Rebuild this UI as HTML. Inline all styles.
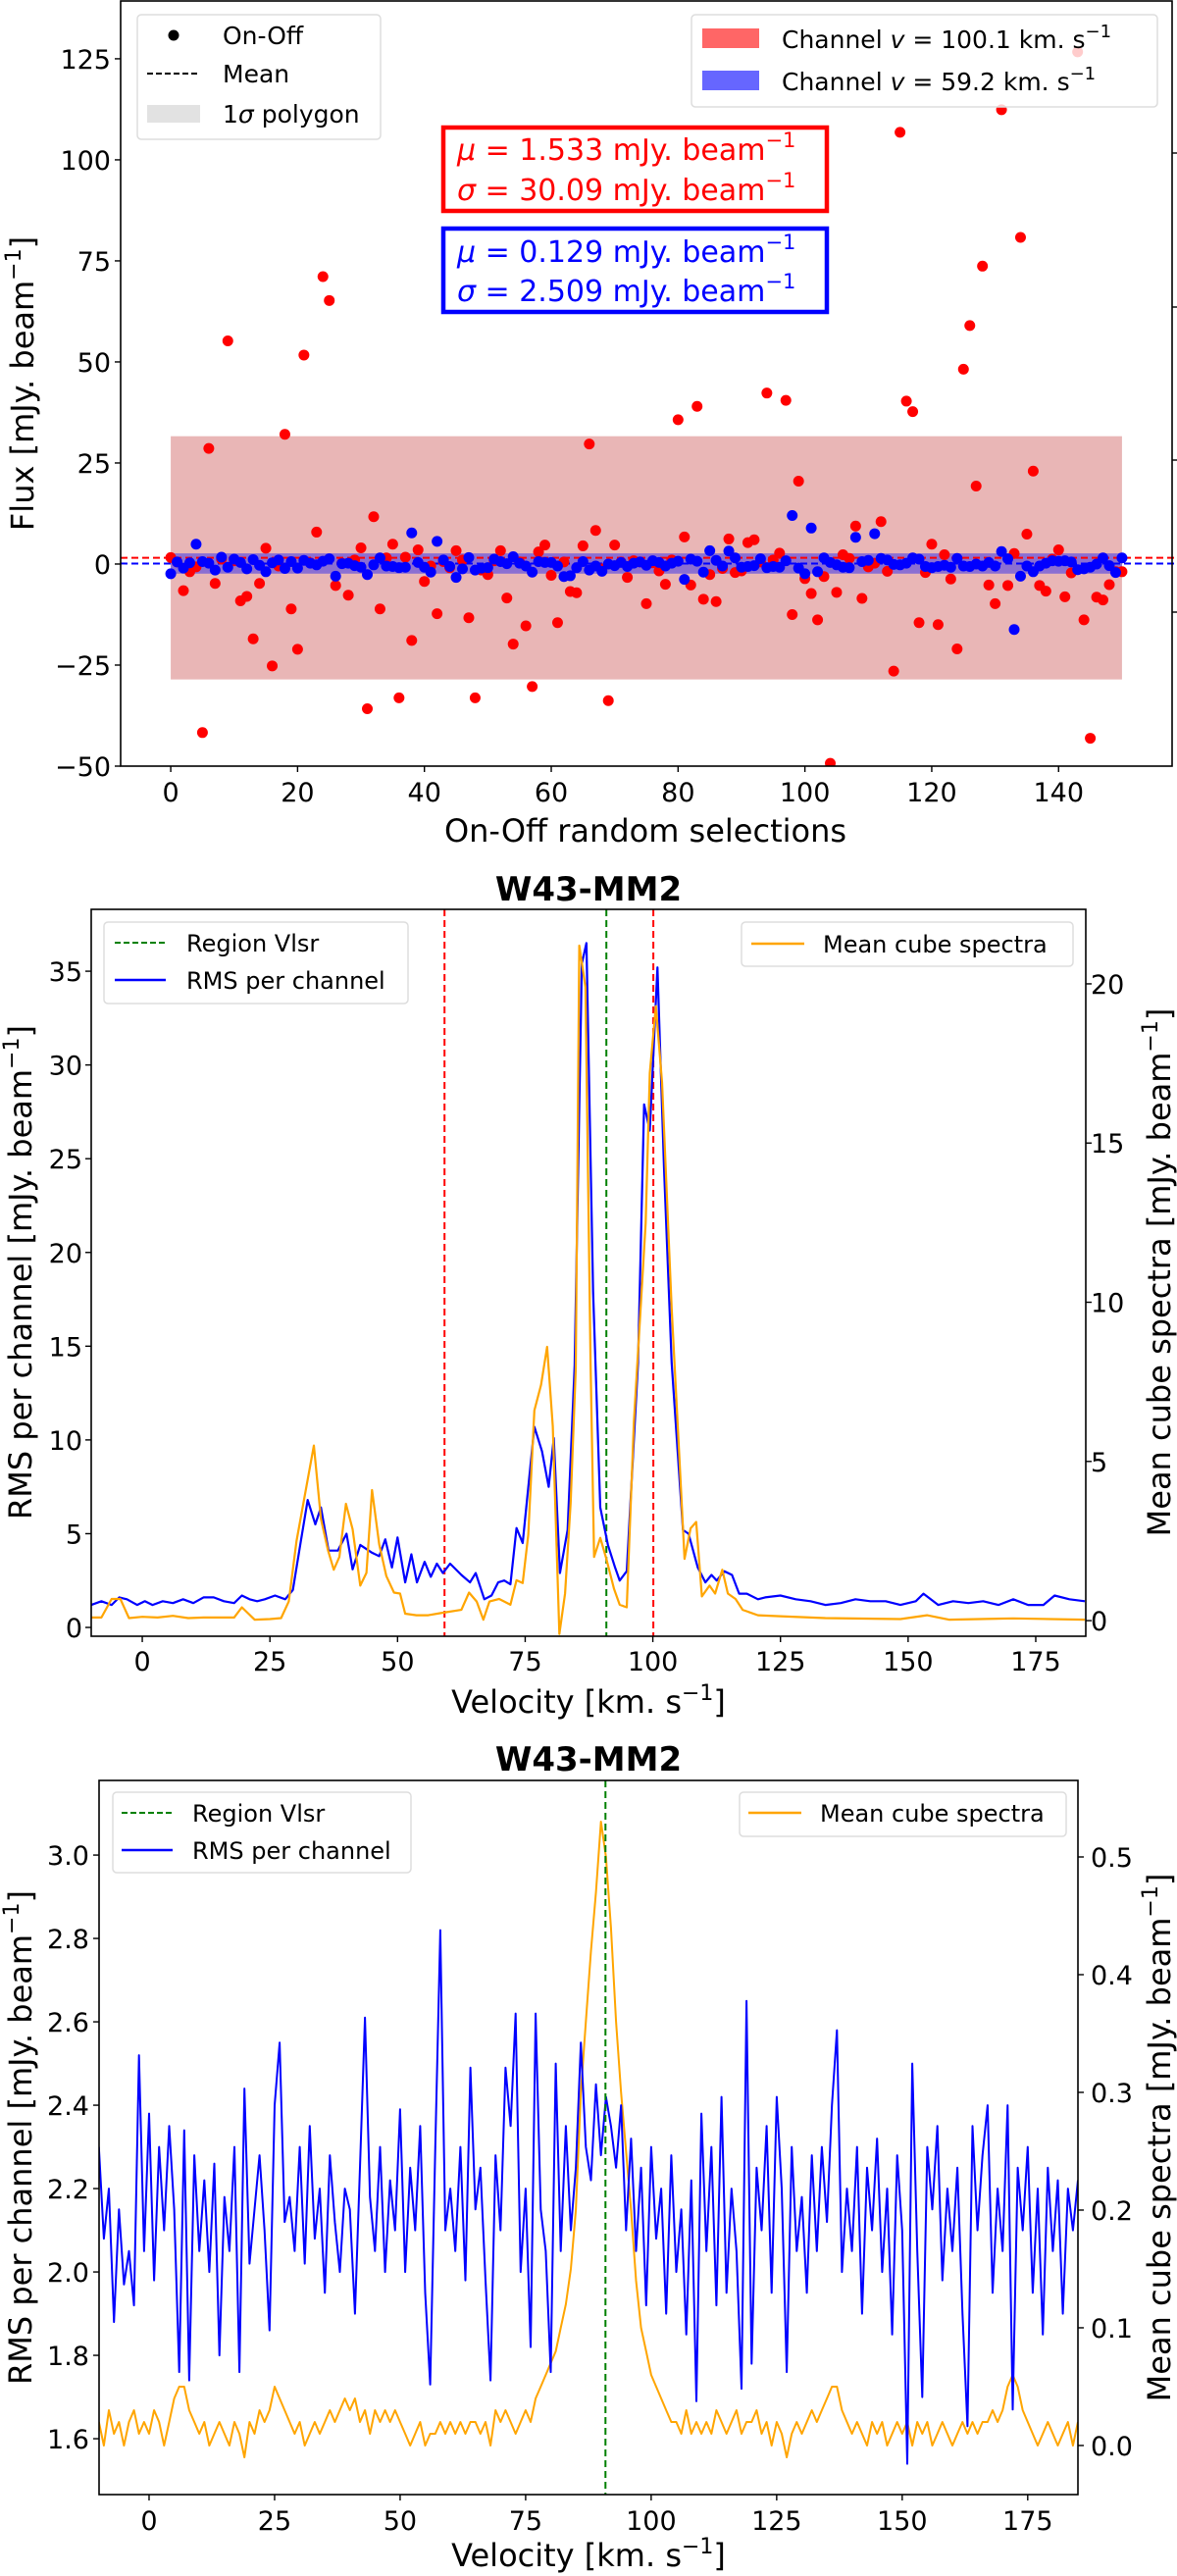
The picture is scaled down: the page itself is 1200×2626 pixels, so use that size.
<!DOCTYPE html>
<html><head><meta charset="utf-8"><title>On-Off and W43-MM2 spectra</title>
<style>
html,body{margin:0;padding:0;background:#fff;}
svg{display:block;font-family:"DejaVu Sans","Liberation Sans",sans-serif;}
</style></head>
<body>
<svg id="fig" xmlns="http://www.w3.org/2000/svg" width="1200" height="2626" viewBox="0 0 1200 2626">
<defs>
<clipPath id="c1"><rect x="123" y="1" width="1072" height="780"/></clipPath>
<clipPath id="c2"><rect x="93" y="927" width="1014" height="741"/></clipPath>
<clipPath id="c3"><rect x="101" y="1815" width="998" height="728"/></clipPath>
</defs>
<g id="g1"></g>
<g id="g2"></g>
<g id="g3"></g>

<!-- Panel 1 static text -->
<text x="658" y="858" font-size="32" text-anchor="middle">On-Off random selections</text>
<text transform="translate(34,391) rotate(-90)" font-size="32" text-anchor="middle">Flux [mJy. beam<tspan dy="-13" font-size="22">−1</tspan><tspan dy="13">]</tspan></text>

<g>
<rect x="140" y="15" width="248" height="127" rx="4" fill="#fff" fill-opacity="0.8" stroke="#ddd" stroke-width="1.5"/>
<circle cx="177" cy="36" r="5.5" fill="#000"/>
<text x="227" y="45" font-size="25">On-Off</text>
<line x1="150" y1="75" x2="204" y2="75" stroke="#000" stroke-width="2" stroke-dasharray="6,3"/>
<text x="227" y="84" font-size="25">Mean</text>
<rect x="150" y="107" width="54" height="18" fill="#e2e2e2"/>
<text x="227" y="125" font-size="25">1<tspan font-style="italic">σ</tspan> polygon</text>
</g>

<g>
<rect x="705" y="15" width="475" height="94" rx="4" fill="#fff" fill-opacity="0.8" stroke="#ddd" stroke-width="1.5"/>
<rect x="716" y="29" width="58" height="20" fill="#ff6666"/>
<text x="797" y="49" font-size="25">Channel <tspan font-style="italic">v</tspan> = 100.1 km. s<tspan dy="-11" font-size="18">−1</tspan></text>
<rect x="716" y="72" width="58" height="20" fill="#6666ff"/>
<text x="797" y="92" font-size="25">Channel <tspan font-style="italic">v</tspan> = 59.2 km. s<tspan dy="-11" font-size="18">−1</tspan></text>
</g>

<g>
<rect x="452" y="130" width="391" height="85" fill="#fff" stroke="#ff0000" stroke-width="4.5"/>
<text x="466" y="163" font-size="30" fill="#ff0000"><tspan font-style="italic">μ</tspan> = 1.533 mJy. beam<tspan dy="-13" font-size="21">−1</tspan></text>
<text x="466" y="204" font-size="30" fill="#ff0000"><tspan font-style="italic">σ</tspan> = 30.09 mJy. beam<tspan dy="-13" font-size="21">−1</tspan></text>
</g>
<g>
<rect x="452" y="233" width="391" height="85" fill="#fff" stroke="#0000ff" stroke-width="4.5"/>
<text x="466" y="267" font-size="30" fill="#0000ff"><tspan font-style="italic">μ</tspan> = 0.129 mJy. beam<tspan dy="-13" font-size="21">−1</tspan></text>
<text x="466" y="307" font-size="30" fill="#0000ff"><tspan font-style="italic">σ</tspan> = 2.509 mJy. beam<tspan dy="-13" font-size="21">−1</tspan></text>
</g>

<!-- Panel 2 static text -->
<text x="600" y="918" font-size="34" font-weight="bold" text-anchor="middle">W43-MM2</text>
<text x="600" y="1746" font-size="32" text-anchor="middle">Velocity [km. s<tspan dy="-13" font-size="22">−1</tspan><tspan dy="13">]</tspan></text>
<text transform="translate(32,1297) rotate(-90)" font-size="32" text-anchor="middle">RMS per channel [mJy. beam<tspan dy="-13" font-size="22">−1</tspan><tspan dy="13">]</tspan></text>
<text transform="translate(1193,1297) rotate(-90)" font-size="32" text-anchor="middle">Mean cube spectra [mJy. beam<tspan dy="-13" font-size="22">−1</tspan><tspan dy="13">]</tspan></text>
<g>
<rect x="106" y="940" width="310" height="83" rx="4" fill="#fff" fill-opacity="0.8" stroke="#ddd" stroke-width="1.5"/>
<line x1="117" y1="961" x2="169" y2="961" stroke="#008000" stroke-width="2" stroke-dasharray="6,3"/>
<text x="190" y="970" font-size="24">Region Vlsr</text>
<line x1="117" y1="999" x2="169" y2="999" stroke="#0000ff" stroke-width="2.5"/>
<text x="190" y="1008" font-size="24">RMS per channel</text>
</g>
<g>
<rect x="756" y="940" width="338" height="45" rx="4" fill="#fff" fill-opacity="0.8" stroke="#ddd" stroke-width="1.5"/>
<line x1="766" y1="962" x2="820" y2="962" stroke="#ffa500" stroke-width="2.5"/>
<text x="839" y="971" font-size="24">Mean cube spectra</text>
</g>

<!-- Panel 3 static text -->
<text x="600" y="1805" font-size="34" font-weight="bold" text-anchor="middle">W43-MM2</text>
<text x="600" y="2616" font-size="32" text-anchor="middle">Velocity [km. s<tspan dy="-13" font-size="22">−1</tspan><tspan dy="13">]</tspan></text>
<text transform="translate(32,2179) rotate(-90)" font-size="32" text-anchor="middle">RMS per channel [mJy. beam<tspan dy="-13" font-size="22">−1</tspan><tspan dy="13">]</tspan></text>
<text transform="translate(1193,2179) rotate(-90)" font-size="32" text-anchor="middle">Mean cube spectra [mJy. beam<tspan dy="-13" font-size="22">−1</tspan><tspan dy="13">]</tspan></text>
<g>
<rect x="115" y="1827" width="304" height="82" rx="4" fill="#fff" fill-opacity="0.8" stroke="#ddd" stroke-width="1.5"/>
<line x1="124" y1="1848" x2="176" y2="1848" stroke="#008000" stroke-width="2" stroke-dasharray="6,3"/>
<text x="196" y="1857" font-size="24">Region Vlsr</text>
<line x1="124" y1="1886" x2="176" y2="1886" stroke="#0000ff" stroke-width="2.5"/>
<text x="196" y="1895" font-size="24">RMS per channel</text>
</g>
<g>
<rect x="754" y="1827" width="333" height="45" rx="4" fill="#fff" fill-opacity="0.8" stroke="#ddd" stroke-width="1.5"/>
<line x1="763" y1="1848" x2="817" y2="1848" stroke="#ffa500" stroke-width="2.5"/>
<text x="836" y="1857" font-size="24">Mean cube spectra</text>
</g>
</svg>

<script>
// ---------- Panel 1 data ----------
const onoffRed = [1.6,0.5,-6.6,-1.9,-0.7,-41.7,28.6,-4.8,1.2,55.2,0.8,-9.1,-8.0,-18.5,-4.8,3.9,-25.2,-0.5,32.1,-11.1,
-21.1,51.7,0.3,7.9,71.1,65.2,-5.3,0.2,-7.7,1.0,4.0,-35.8,11.7,-11.1,1.5,4.9,-33.1,1.7,-18.9,3.5,
-4.3,-0.5,-12.3,0.6,-0.9,3.3,1.0,-13.3,-33.1,-1.5,-2.6,0.8,3.3,-8.4,-19.8,0.5,-15.3,-30.3,3.0,4.7,
-2.8,-14.5,0.5,-6.8,-7.1,4.5,29.7,8.3,-1.2,-33.8,4.7,0.5,-3.3,0.8,0.5,-9.8,0.3,-1.7,-5.0,1.0,
35.7,6.7,-5.2,39.0,-8.7,-2.6,-9.3,-1.1,6.2,-2.1,-1.7,5.3,6.0,0.5,42.3,1.0,2.7,40.5,-12.5,20.5,
-3.6,-7.3,-13.8,-3.1,-49.3,-7.0,2.3,1.4,9.4,-8.5,-0.7,0.2,10.5,-1.8,-26.5,106.8,40.3,37.7,-14.5,-2.1,
4.9,-15.0,2.3,-3.7,-21.0,48.2,59.0,19.3,73.7,-5.2,-9.8,112.4,-5.3,2.6,80.8,7.4,23.0,-5.3,-6.7,1.2,
3.5,-8.1,-2.2,126.7,-13.8,-43.1,-8.2,-8.9,-5.1,-1.9,-1.9];
const onoffBlue = [-2.4,0.5,-1.0,0.3,4.9,0.6,0.2,-1.5,1.7,-0.8,1.2,0.4,-1.2,1.1,-0.3,-1.9,0.3,1.0,-1.1,0.6,
-1.0,0.9,0.2,-0.2,0.7,1.3,-3.0,0.1,0.2,-0.4,-0.8,-2.6,-0.2,1.5,-0.5,-0.6,-0.9,-0.8,7.7,0.4,
-0.8,-2.0,5.6,1.0,-0.6,-3.3,-1.2,1.6,-1.5,-1.0,-0.9,1.2,0.6,0.1,1.8,0.2,-0.5,-2.0,0.6,0.4,
0.4,-0.5,-3.1,-2.9,-0.9,0.6,-1.5,-0.5,-1.8,0.0,-0.4,0.4,-0.6,0.2,0.5,-0.3,0.8,0.4,-0.5,0.2,
0.7,-3.8,1.2,0.7,-2.0,3.3,0.9,-0.5,3.2,1.5,-0.8,-0.6,-0.4,1.3,-0.9,-0.6,-0.8,0.8,12.0,-1.0,
-2.4,8.9,-1.9,1.5,0.4,-0.2,-0.8,-0.9,6.6,0.6,0.9,7.5,1.4,1.0,-0.1,-0.2,0.2,1.5,1.2,-0.6,
-0.9,-0.6,-0.3,-0.8,1.4,-0.5,-0.6,0.0,-0.5,0.4,-0.5,3.1,1.3,-16.2,-3.0,-0.5,-1.9,-0.5,0.2,0.8,
0.7,0.8,0.5,-1.4,-1.2,-0.8,0.0,1.5,-0.4,-2.1,1.5];
const redMean = 1.533, redSigma = 30.09;
const blueMean = 0.129, blueSigma = 2.509;
const p1XTicks = [0,20,40,60,80,100,120,140];
const p1YTicks = [-50,-25,0,25,50,75,100,125];

// ---------- Panel 2 data ----------
const rmsVel2 = [-10,-8,-6,-4.5,-3,-1,0.5,2,4,6,8,10,12,14,16,18,19.5,21,22.5,24,26,28,29.5,31,32.4,33.9,35,36.5,38.3,40,41.2,42.7,44.9,46.4,47.6,48.9,50,51.5,52.7,53.8,55.3,56.5,57.7,58.9,60.3,62.5,64.2,65.3,67,68.4,69.7,70.9,72.1,73.3,74.5,76.8,78.3,79.6,80.6,81.8,83.3,84.7,86.1,87,88.3,89.7,91.2,92.6,93.5,94.9,97.1,98.3,99.4,100.9,102.2,103.7,105.9,107,108.8,110.3,111.5,112.5,114,115.5,116.9,118.4,120.6,122,125,128,130.9,133.8,136.8,139.7,142.6,145.6,148.5,151.5,153,155.9,158.8,161.8,164.7,167.7,170.6,173.5,176.5,178.7,181.6,184.6];
const rmsVal2 = [1.2,1.4,1.2,1.6,1.5,1.2,1.4,1.2,1.4,1.3,1.5,1.3,1.6,1.6,1.4,1.3,1.7,1.5,1.4,1.5,1.7,1.5,2.0,4.5,6.8,5.5,6.4,4.1,4.1,5.0,3.1,4.4,4.0,3.8,4.7,3.2,4.8,2.4,3.9,2.4,3.5,2.7,3.4,2.9,3.4,2.8,2.4,2.9,1.5,1.7,2.4,2.5,2.3,5.3,4.5,10.7,9.4,7.5,10.1,2.9,5.2,14.0,35.4,36.5,17.9,6.4,4.4,3.2,2.5,3.0,14.1,27.9,26.5,35.2,24.5,14.1,5.2,5.0,3.2,2.4,2.8,2.5,3.0,2.8,1.8,1.8,1.5,1.6,1.7,1.5,1.4,1.2,1.3,1.5,1.4,1.4,1.2,1.4,1.8,1.2,1.4,1.3,1.4,1.2,1.5,1.2,1.2,1.7,1.5,1.4];
const meanVel2 = [-10,-8,-6,-4.3,-2.6,0,3,6,9,12,15,18,19.5,22,25,27.2,28.7,30.2,33.6,35,36.4,37.5,38.6,39.9,41.2,42.7,43.9,45,46.4,47.8,49.3,50.5,51.5,53.7,56,58.9,62.5,64,65.5,66.8,68,69.9,70.9,72.1,73.3,74.5,75.6,76.8,78.1,79.3,80.4,81.7,82.8,83.9,84.9,85.6,86.8,87.8,88.5,89.7,90.9,92.4,93.5,94.9,96.3,98.6,99.4,100.6,101.8,103.7,105.2,106.2,107.4,108.5,109.6,111.1,112.2,113.6,114.7,116.2,117.6,120.6,125,133.8,148.5,153.7,158,170.6,184.6];
const meanVal2 = [0.1,0.1,0.68,0.68,0.08,0.12,0.1,0.15,0.08,0.1,0.1,0.1,0.42,0.03,0.05,0.08,0.6,2.5,5.5,3.2,2.2,1.6,2.0,3.67,2.87,1.1,1.5,4.1,2.4,1.4,0.88,0.85,0.22,0.17,0.17,0.25,0.34,0.88,0.6,0.03,0.6,0.68,0.6,0.5,1.27,1.18,2.7,6.6,7.4,8.6,6.1,-0.42,0.85,3.7,7.9,21.2,19.9,8.1,2.0,2.6,1.94,1.0,0.5,0.42,6.25,12.5,17.2,19.3,16.9,9.8,5.1,1.94,2.9,3.1,0.76,1.1,0.85,1.6,0.85,0.68,0.34,0.17,0.14,0.08,0.05,0.17,0.03,0.07,0.03];
const vlines2Red = [59.2, 100.1];
const vlsr = 90.9;
const p2XTicks = [0,25,50,75,100,125,150,175];
const p2LTicks = [0,5,10,15,20,25,30,35];
const p2RTicks = [0,5,10,15,20];

// ---------- Panel 3 data (1 km/s grid starting at -10) ----------
const velStart3 = -10, velStep3 = 1;
const rms3 = [2.30,2.08,2.20,1.88,2.15,1.97,2.05,1.92,2.52,2.05,
2.38,1.98,2.30,2.10,2.35,2.15,1.76,2.34,1.74,2.28,
2.05,2.22,2.00,2.26,1.80,2.18,2.05,2.30,1.76,2.44,
2.02,2.15,2.28,2.10,1.86,2.40,2.55,2.12,2.18,2.05,
2.30,2.02,2.35,2.08,2.20,1.95,2.28,2.12,2.00,2.20,
2.15,1.90,2.25,2.61,2.18,2.05,2.30,2.00,2.22,2.10,
2.39,2.00,2.25,2.10,2.35,1.95,1.73,2.30,2.82,2.10,
2.20,2.05,2.30,1.98,2.49,2.15,2.25,1.98,1.74,2.28,
2.10,2.49,2.35,2.62,2.00,2.20,1.82,2.62,2.15,2.05,
1.76,2.50,2.05,2.35,2.10,2.25,2.55,2.30,2.22,2.45,
2.28,2.42,2.35,2.25,2.40,2.10,2.32,2.05,2.25,1.92,
2.30,2.08,2.20,1.90,2.28,2.00,2.15,1.85,2.22,1.69,
2.38,2.05,2.30,1.92,2.42,1.95,2.20,2.05,1.72,2.65,
1.78,2.25,2.10,2.35,1.95,2.42,2.20,1.76,2.30,2.05,
2.18,1.95,2.28,2.05,2.30,2.12,2.40,2.58,2.00,2.20,
2.05,2.30,1.90,2.25,2.10,2.32,2.00,2.20,1.85,2.28,
2.10,1.54,2.50,2.05,1.70,2.30,2.15,2.35,1.98,2.20,
2.05,2.25,1.90,1.63,2.35,2.10,2.28,2.40,1.95,2.20,
2.05,2.40,1.67,2.25,2.10,2.30,1.95,2.20,1.85,2.25,
2.05,2.22,1.90,2.20,2.10,2.22];
const mean3 = [0.02,0.00,0.03,0.01,0.02,0.00,0.02,0.03,0.01,0.02,
0.01,0.03,0.02,0.00,0.02,0.04,0.05,0.05,0.03,0.02,
0.01,0.02,0.00,0.01,0.02,0.01,0.00,0.02,0.01,-0.01,
0.02,0.01,0.03,0.02,0.03,0.05,0.04,0.03,0.02,0.01,
0.02,0.00,0.01,0.02,0.01,0.02,0.03,0.02,0.03,0.04,
0.03,0.04,0.02,0.03,0.01,0.03,0.02,0.03,0.02,0.03,
0.02,0.01,0.00,0.01,0.02,0.00,0.01,0.01,0.02,0.01,
0.02,0.01,0.02,0.01,0.02,0.02,0.01,0.02,0.00,0.03,
0.02,0.03,0.02,0.01,0.02,0.03,0.02,0.04,0.05,0.06,
0.07,0.08,0.10,0.12,0.15,0.20,0.30,0.36,0.42,0.47,
0.53,0.50,0.44,0.36,0.30,0.25,0.20,0.14,0.10,0.08,
0.06,0.05,0.04,0.03,0.02,0.02,0.01,0.03,0.01,0.02,
0.01,0.02,0.01,0.03,0.02,0.01,0.02,0.03,0.01,0.02,
0.02,0.03,0.01,0.02,0.00,0.02,0.01,-0.01,0.01,0.02,
0.01,0.02,0.03,0.02,0.03,0.04,0.05,0.05,0.03,0.02,
0.01,0.02,0.01,0.00,0.02,0.01,0.02,0.00,0.01,0.02,
0.01,0.02,0.00,0.02,0.01,0.02,0.00,0.01,0.02,0.01,
0.00,0.01,0.02,0.01,0.02,0.01,0.02,0.02,0.03,0.02,
0.03,0.05,0.06,0.05,0.03,0.02,0.01,0.00,0.01,0.02,
0.01,0.00,0.01,0.02,0.00,0.02];
const p3XTicks = [0,25,50,75,100,125,150,175];
const p3LTicks = [1.6,1.8,2.0,2.2,2.4,2.6,2.8,3.0];
const p3RTicks = [0.0,0.1,0.2,0.3,0.4,0.5];

// ---------- drawing ----------
const NS = 'http://www.w3.org/2000/svg';
function mk(tag, attrs, parent){
  const e = document.createElementNS(NS, tag);
  for (const k in attrs) e.setAttribute(k, attrs[k]);
  parent.appendChild(e);
  return e;
}
function lin(d0,d1,r0,r1){ return v => r0 + (v-d0)/(d1-d0)*(r1-r0); }
function fmtMinus(s){ return String(s).replace('-', '\u2212'); }

const P1 = {l:123,r:1195,t:1,b:781};
const x1 = lin(-7.9,157.9,P1.l,P1.r), y1 = lin(-50,139.3,P1.b,P1.t);
const P2 = {l:93,r:1107,t:927,b:1668};
const x2 = lin(-10,184.8,P2.l,P2.r), y2L = lin(-0.47,38.3,P2.b,P2.t), y2R = lin(-0.49,22.34,P2.b,P2.t);
const P3 = {l:101,r:1099,t:1815,b:2543};
const x3 = lin(-9.96,185,P3.l,P3.r), y3L = lin(1.466,3.179,P3.b,P3.t), y3R = lin(-0.0417,0.565,P3.b,P3.t);

function frame(g, P){
  const r = mk('rect',{x:P.l,y:P.t,width:P.r-P.l,height:P.b-P.t,fill:'none',stroke:'#000','stroke-width':1.6},g);
  
  
}
function xTicks(g, P, ticks, sx, ly){
  ticks.forEach(t=>{
    const X = sx(t);
    const tk = mk('line',{x1:X,y1:P.b,x2:X,y2:P.b+6,stroke:'#000','stroke-width':1.4},g);
    
    
    const lb = mk('text',{x:X,y:ly,'font-size':27,'text-anchor':'middle'},g);
    
    
    lb.textContent = fmtMinus(t);
  });
}
function yTicks(g, P, ticks, sy, side, lx, digits){
  ticks.forEach(t=>{
    const Y = sy(t);
    const X0 = side==='left'?P.l:P.r, X1 = side==='left'?P.l-6:P.r+6;
    const tk = mk('line',{x1:X0,y1:Y,x2:X1,y2:Y,stroke:'#000','stroke-width':1.4},g);
    
    
    const lb = mk('text',{x:lx,y:Y+10,'font-size':27,'text-anchor':side==='left'?'end':'start'},g);
    
    
    lb.textContent = fmtMinus(digits!=null ? t.toFixed(digits) : t);
  });
}
function polyline(g, xs, ys, sx, sy, color, w, clip, name){
  const pts = xs.map((v,i)=> sx(v).toFixed(1)+','+sy(ys[i]).toFixed(1)).join(' ');
  const pl = mk('polyline',{points:pts,fill:'none',stroke:color,'stroke-width':w,'stroke-linejoin':'round','clip-path':'url(#'+clip+')'},g);
  
  
}
function vline(g, P, X, color, name){
  const l = mk('line',{x1:X,y1:P.t,x2:X,y2:P.b,stroke:color,'stroke-width':2,'stroke-dasharray':'7,4'},g);
  
  
}

// Panel 1
const g1 = document.getElementById('g1');
const n1 = onoffRed.length;
const redBand = mk('rect',{x:x1(0),y:y1(redMean+redSigma),width:x1(n1-1)-x1(0),height:y1(redMean-redSigma)-y1(redMean+redSigma),fill:'#e9b6b6'},g1);


const blueBand = mk('rect',{x:x1(0),y:y1(blueMean+blueSigma),width:x1(n1-1)-x1(0),height:y1(blueMean-blueSigma)-y1(blueMean+blueSigma),fill:'#8b6fd2'},g1);


const redMeanLine = mk('line',{x1:P1.l,x2:P1.r+6,y1:y1(redMean),y2:y1(redMean),stroke:'#ff0000','stroke-width':2,'stroke-dasharray':'7,4'},g1);


const blueMeanLine = mk('line',{x1:P1.l,x2:P1.r+6,y1:y1(blueMean),y2:y1(blueMean),stroke:'#0000ff','stroke-width':2,'stroke-dasharray':'7,4'},g1);


onoffRed.forEach((v,i)=>{
  const c = mk('circle',{cx:x1(i),cy:y1(v),r:5.5,fill:'#ff0000','clip-path':'url(#c1)'},g1);
  
  
});
onoffBlue.forEach((v,i)=>{
  const c = mk('circle',{cx:x1(i),cy:y1(v),r:5.5,fill:'#0000ff','clip-path':'url(#c1)'},g1);
  
  
});
frame(g1,P1);
xTicks(g1,P1,p1XTicks,x1,817);
yTicks(g1,P1,p1YTicks,y1,'left',113);
[156,313,469,624].forEach(Y=>{
  const t = mk('line',{x1:P1.r,x2:P1.r+6,y1:Y,y2:Y,stroke:'#000','stroke-width':1.4},g1);
  
  
});

// Panel 2
const g2 = document.getElementById('g2');
vline(g2,P2,x2(vlines2Red[0]),'#ff0000','channel-line-59');
vline(g2,P2,x2(vlines2Red[1]),'#ff0000','channel-line-100');
vline(g2,P2,x2(vlsr),'#008000','vlsr-line-2');
polyline(g2,rmsVel2,rmsVal2,x2,y2L,'#0000ff',2.2,'c2','rms-line-2');
polyline(g2,meanVel2,meanVal2,x2,y2R,'#ffa500',2.2,'c2','mean-spectrum-line-2');
frame(g2,P2);
xTicks(g2,P2,p2XTicks,x2,1703);
yTicks(g2,P2,p2LTicks,y2L,'left',84);
yTicks(g2,P2,p2RTicks,y2R,'right',1112);

// Panel 3
const g3 = document.getElementById('g3');
const vel3 = rms3.map((_,i)=> velStart3 + i*velStep3);
polyline(g3,vel3,mean3,x3,y3R,'#ffa500',2,'c3','mean-spectrum-line-3');
polyline(g3,vel3,rms3,x3,y3L,'#0000ff',2,'c3','rms-line-3');
vline(g3,P3,x3(vlsr),'#008000','vlsr-line-3');
frame(g3,P3);
xTicks(g3,P3,p3XTicks,x3,2579);
yTicks(g3,P3,p3LTicks,y3L,'left',91,1);
yTicks(g3,P3,p3RTicks,y3R,'right',1112,1);
</script>
</body></html>
